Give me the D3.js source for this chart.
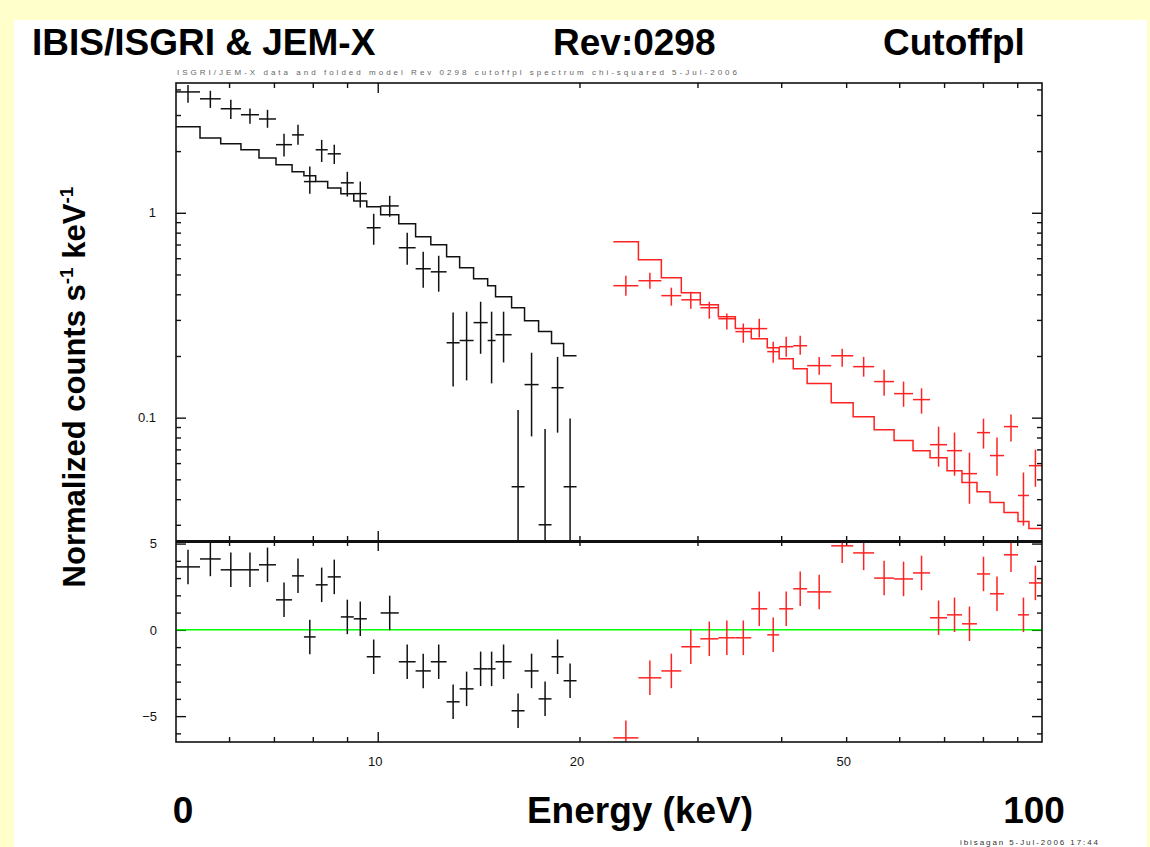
<!DOCTYPE html>
<html>
<head>
<meta charset="utf-8">
<script src="https://cdn.jsdelivr.net/npm/d3@7"></script>
<style>
body { margin: 0; background: #ffffcc; }
svg { display: block; }
text { font-family: "Liberation Sans", Arial, sans-serif; }
</style>
</head>
<body>
<div id="chart"></div>
<script>
// JEM-X (black) bins, keV
var jemxEdges = [5.0, 5.43, 5.83, 6.25, 6.65, 7.05, 7.45, 7.76, 8.08, 8.42, 8.81, 9.21, 9.63, 10.10,
  10.75, 11.39, 12.0, 12.67, 13.25, 13.9, 14.59, 14.99, 15.84, 16.56, 17.38, 18.17, 18.94, 19.8];
var jemxRate = [3.89, 3.60, 3.22, 3.01, 2.87, 2.15, 2.40, 1.42, 2.03, 1.94, 1.40, 1.24, 0.845, 1.08,
  0.675, 0.533, 0.515, 0.232, 0.238, 0.291, 0.238, 0.254, 0.046, 0.145, 0.030, 0.140, 0.046];
var jemxRateHi = [4.21, 3.94, 3.56, 3.23, 3.18, 2.43, 2.69, 1.68, 2.27, 2.15, 1.585, 1.42, 0.989, 1.21,
  0.799, 0.645, 0.617, 0.326, 0.329, 0.368, 0.329, 0.329, 0.109, 0.2075, 0.088, 0.198, 0.099];
// 0.01 = error bar goes below the axis
var jemxRateLo = [3.44, 3.25, 2.87, 2.72, 2.60, 1.88, 2.15, 1.24, 1.77, 1.73, 1.20, 1.06, 0.698, 0.956,
  0.557, 0.431, 0.412, 0.142, 0.152, 0.205, 0.147, 0.186, 0.01, 0.081, 0.01, 0.0845, 0.01];
var jemxModel = [2.63, 2.32, 2.17, 2.03, 1.85, 1.715, 1.585, 1.515, 1.42, 1.32, 1.24, 1.14, 1.07, 0.978,
  0.884, 0.764, 0.698, 0.610, 0.539, 0.477, 0.440, 0.389, 0.344, 0.297, 0.263, 0.230, 0.2005];
var jemxResid = [3.65, 4.11, 3.48, 3.48, 3.77, 1.74, 3.13, -0.41, 2.61, 3.07, 0.75, 0.64, -1.56, 0.98,
  -1.85, -2.38, -1.85, -4.17, -3.42, -2.26, -2.26, -1.85, -4.69, -2.38, -4.0, -1.56, -2.95];

// IBIS/ISGRI (red) bins, keV
var isgriEdges = [22.47, 24.49, 26.50, 28.38, 30.29, 32.23, 34.17, 36.09, 38.13, 39.72, 41.69, 43.73,
  47.50, 51.22, 55.05, 58.95, 62.92, 66.71, 70.72, 74.44, 78.38, 81.97, 86.00, 90.24, 93.70, 97.97];
var isgriRate = [0.4406, 0.466, 0.394, 0.376, 0.344, 0.304, 0.263, 0.272, 0.210, 0.222, 0.2244, 0.1794,
  0.2005, 0.1774, 0.150, 0.131, 0.1225, 0.0738, 0.069, 0.0533, 0.0845, 0.0653, 0.0904, 0.0417, 0.0583];
var isgriRateHi = [0.493, 0.510, 0.431, 0.412, 0.368, 0.322, 0.288, 0.304, 0.235, 0.248, 0.251, 0.198,
  0.217, 0.198, 0.1715, 0.150, 0.139, 0.0904, 0.0846, 0.0675, 0.0989, 0.080, 0.1035, 0.054, 0.0698];
var isgriRateLo = [0.394, 0.426, 0.352, 0.340, 0.304, 0.269, 0.232, 0.246, 0.1855, 0.1985, 0.203, 0.162,
  0.1774, 0.1585, 0.128, 0.113, 0.1046, 0.0577, 0.0521, 0.038, 0.0706, 0.0521, 0.0764, 0.0297, 0.046];
var isgriModel = [0.722, 0.590, 0.482, 0.407, 0.356, 0.311, 0.272, 0.243, 0.2195, 0.194, 0.1734, 0.1466,
  0.1183, 0.101, 0.0874, 0.0773, 0.069, 0.0638, 0.0551, 0.0482, 0.0435, 0.0385, 0.0344, 0.0311, 0.0288];
var isgriResid = [-6.26, -2.78, -2.38, -0.98, -0.52, -0.46, -0.46, 1.22, -0.29, 1.22, 2.38, 2.20,
  4.87, 4.46, 3.0, 2.95, 3.30, 0.70, 0.87, 0.35, 3.24, 2.09, 4.35, 0.87, 2.72];
var residErr = 1; // residuals are in sigma

// ticks
var xMajor = [10];
var xMinor = [6, 7, 8, 9, 20, 30, 40, 50, 60, 70, 80, 90];
var xLabels = [10, 20, 50];
var yMajor = [0.1, 1];
var yMinor = [0.03, 0.04, 0.05, 0.06, 0.07, 0.08, 0.09, 0.2, 0.3, 0.4, 0.5, 0.6, 0.7, 0.8, 0.9, 2, 3, 4];
var rMajor = [-5, 0, 5];
var rMinor = [-6, -4, -3, -2, -1, 1, 2, 3, 4];

var W = 1150, H = 847;
var left = 176, right = 1042, top1 = 83, mid = 541, bottom = 742;

var svg = d3.select("#chart").append("svg")
    .attr("width", W)
    .attr("height", H);

svg.append("rect")
    .attr("x", 14).attr("y", 20)
    .attr("width", 1133).attr("height", H - 20)
    .attr("fill", "#fff");

var x = d3.scaleLog().domain([5, 98]).range([left, right]);
var yTop = d3.scaleLog().domain([0.025, 4.3]).range([mid, top1]);
var yRes = d3.scaleLinear().domain([-6.5, 5.15]).range([bottom, mid]);

var defs = svg.append("defs");
defs.append("clipPath").attr("id", "clipTop").append("rect")
    .attr("x", left).attr("y", top1).attr("width", right - left).attr("height", mid - top1);
defs.append("clipPath").attr("id", "clipRes").append("rect")
    .attr("x", left).attr("y", mid).attr("width", right - left).attr("height", bottom - mid);

function addAxis(axis, tx, ty, labels) {
  var g = svg.append("g")
      .attr("transform", "translate(" + tx + "," + ty + ")")
      .call(axis);
  g.select(".domain").remove();
  g.selectAll(".tick line").attr("stroke", "#111").attr("stroke-width", 1.4);
  g.selectAll(".tick text")
      .attr("font-family", "'Liberation Sans', Arial, sans-serif")
      .attr("font-size", 13)
      .attr("fill", "#111");
  if (!labels) g.selectAll(".tick text").remove();
  return g;
}

// upper panel ticks
addAxis(d3.axisLeft(yTop).tickValues(yMajor).tickSize(-10).tickPadding(20).tickFormat(function(d){ return d; }), left, 0, true);
addAxis(d3.axisLeft(yTop).tickValues(yMinor).tickSize(-5), left, 0, false);
addAxis(d3.axisRight(yTop).tickValues(yMajor).tickSize(-10), right, 0, false);
addAxis(d3.axisRight(yTop).tickValues(yMinor).tickSize(-5), right, 0, false);
addAxis(d3.axisTop(x).tickValues(xMajor).tickSize(-10), 0, top1, false);
addAxis(d3.axisTop(x).tickValues(xMinor).tickSize(-5), 0, top1, false);
addAxis(d3.axisBottom(x).tickValues(xMajor).tickSize(-10), 0, mid, false);
addAxis(d3.axisBottom(x).tickValues(xMinor).tickSize(-5), 0, mid, false);

// residual panel ticks
addAxis(d3.axisLeft(yRes).tickValues(rMajor).tickSize(-10).tickPadding(19), left, 0, true);
addAxis(d3.axisLeft(yRes).tickValues(rMinor).tickSize(-5), left, 0, false);
addAxis(d3.axisRight(yRes).tickValues(rMajor).tickSize(-10), right, 0, false);
addAxis(d3.axisRight(yRes).tickValues(rMinor).tickSize(-5), right, 0, false);
addAxis(d3.axisTop(x).tickValues(xMajor).tickSize(-10), 0, mid, false);
addAxis(d3.axisTop(x).tickValues(xMinor).tickSize(-5), 0, mid, false);
addAxis(d3.axisBottom(x).tickValues(xMajor).tickSize(-10), 0, bottom, false);
addAxis(d3.axisBottom(x).tickValues(xMinor).tickSize(-5), 0, bottom, false);
addAxis(d3.axisBottom(x).tickValues(xLabels).tickSize(0).tickPadding(15).tickFormat(d3.format("d")), -3, bottom, true);

// zero line
svg.append("line")
    .attr("x1", left).attr("x2", right)
    .attr("y1", yRes(0)).attr("y2", yRes(0))
    .attr("stroke", "#00ff00").attr("stroke-width", 1.5);

function makeBins(edges, vals, lo, hi) {
  return vals.map(function(v, i) {
    return {x0: edges[i], x1: edges[i + 1], y: v, lo: lo[i], hi: hi[i]};
  });
}

function drawCrosses(layer, bins, yScale, color) {
  layer.selectAll(null).data(bins).enter().append("line")
      .attr("x1", function(d) { return x(d.x0); })
      .attr("x2", function(d) { return x(d.x1); })
      .attr("y1", function(d) { return yScale(d.y); })
      .attr("y2", function(d) { return yScale(d.y); })
      .attr("stroke", color).attr("stroke-width", 1.5);
  layer.selectAll(null).data(bins).enter().append("line")
      .attr("x1", function(d) { return (x(d.x0) + x(d.x1)) / 2; })
      .attr("x2", function(d) { return (x(d.x0) + x(d.x1)) / 2; })
      .attr("y1", function(d) { return yScale(d.lo); })
      .attr("y2", function(d) { return yScale(d.hi); })
      .attr("stroke", color).attr("stroke-width", 1.5);
}

function drawModel(layer, edges, model, color) {
  var pts = model.map(function(m, i) { return [edges[i], m]; });
  pts.push([edges[edges.length - 1], model[model.length - 1]]);
  var line = d3.line()
      .x(function(d) { return x(d[0]); })
      .y(function(d) { return yTop(d[1]); })
      .curve(d3.curveStepAfter);
  layer.append("path")
      .attr("d", line(pts))
      .attr("fill", "none")
      .attr("stroke", color).attr("stroke-width", 1.5);
}

var gTop = svg.append("g").attr("clip-path", "url(#clipTop)");
drawModel(gTop, jemxEdges, jemxModel, "#111");
drawModel(gTop, isgriEdges, isgriModel, "#ff2222");
drawCrosses(gTop, makeBins(jemxEdges, jemxRate, jemxRateLo, jemxRateHi), yTop, "#111");
drawCrosses(gTop, makeBins(isgriEdges, isgriRate, isgriRateLo, isgriRateHi), yTop, "#ff2222");

var gRes = svg.append("g").attr("clip-path", "url(#clipRes)");
drawCrosses(gRes, makeBins(jemxEdges, jemxResid,
    jemxResid.map(function(r) { return r - residErr; }),
    jemxResid.map(function(r) { return r + residErr; })), yRes, "#111");
drawCrosses(gRes, makeBins(isgriEdges, isgriResid,
    isgriResid.map(function(r) { return r - residErr; }),
    isgriResid.map(function(r) { return r + residErr; })), yRes, "#ff2222");

// frames
svg.append("rect")
    .attr("x", left).attr("y", top1)
    .attr("width", right - left).attr("height", bottom - top1)
    .attr("fill", "none").attr("stroke", "#111").attr("stroke-width", 1.6);
svg.append("line")
    .attr("x1", left).attr("x2", right)
    .attr("y1", mid + 0.5).attr("y2", mid + 0.5)
    .attr("stroke", "#111").attr("stroke-width", 3);

// titles
var titleFont = "'Liberation Sans', Arial, sans-serif";
[["IBIS/ISGRI & JEM-X", 32], ["Rev:0298", 553], ["Cutoffpl", 883]].forEach(function(t) {
  svg.append("text")
      .attr("x", t[1]).attr("y", 55)
      .attr("font-family", titleFont)
      .attr("font-size", 37).attr("font-weight", "bold")
      .text(t[0]);
});

svg.append("text")
    .attr("x", 177).attr("y", 75)
    .attr("font-size", 8).attr("fill", "#666")
    .attr("textLength", 560)
    .text("ISGRI/JEM-X  data and folded model  Rev 0298  cutoffpl  spectrum  chi-squared  5-Jul-2006");

var yl = svg.append("text")
    .attr("transform", "translate(85,387) rotate(-90)")
    .attr("text-anchor", "middle")
    .attr("font-family", titleFont)
    .attr("font-size", 31).attr("font-weight", "bold");
yl.append("tspan").text("Normalized counts s");
yl.append("tspan").attr("font-size", 19).attr("dy", -12).text("-1");
yl.append("tspan").attr("dy", 12).text(" keV");
yl.append("tspan").attr("font-size", 19).attr("dy", -12).text("-1");

[["0", 183, "middle"], ["Energy (keV)", 640, "middle"], ["100", 1034, "middle"]].forEach(function(t) {
  svg.append("text")
      .attr("x", t[1]).attr("y", 823)
      .attr("text-anchor", t[2])
      .attr("font-family", titleFont)
      .attr("font-size", 37).attr("font-weight", "bold")
      .text(t[0]);
});

svg.append("text")
    .attr("x", 960).attr("y", 845)
    .attr("font-size", 8).attr("fill", "#333")
    .attr("textLength", 138)
    .text("ibisagan  5-Jul-2006 17:44");
</script>
</body>
</html>
